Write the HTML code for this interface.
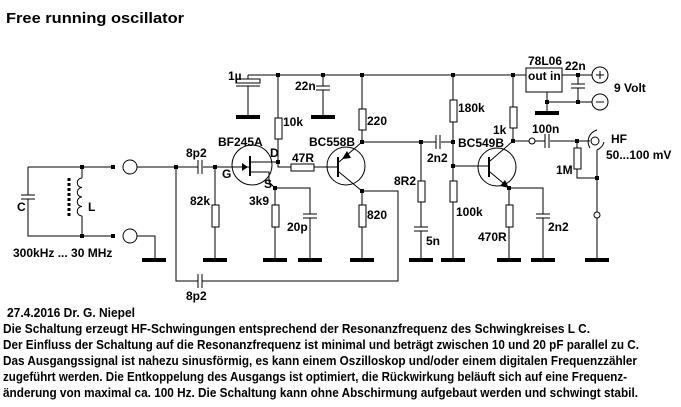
<!DOCTYPE html>
<html><head><meta charset="utf-8"><style>
html,body{margin:0;padding:0;background:#fff;}
svg{display:block;}
text{font-family:"Liberation Sans",Arial,sans-serif;font-weight:bold;font-size:12px;fill:#000;}
.b{font-size:13px;}
</style></head><body>
<svg width="681" height="407" viewBox="0 0 681 407" xmlns="http://www.w3.org/2000/svg">
<g stroke="#000" stroke-width="1" fill="none" shape-rendering="crispEdges">
<path d="M248,75 H526"/>
<path d="M248,75 V79 M248,86 V117"/>
<rect x="236" y="79" width="24" height="4"/>
<path d="M236,86 H260"/>
<path d="M278,75 V118 M278,139 V161 M278,161 V167 H291 M314,167 H338"/>
<rect x="275" y="118" width="7" height="21"/>
<rect x="291" y="164" width="23" height="7"/>
<path d="M323,75 V86 M316,86 H330 M316,90 H330 M323,90 V117"/>
<path d="M28,167 H113 M28,167 V195 M21,195 H35 M21,199 H35 M28,199 V236 H113"/>
<path d="M82,167 V178 M82,216 V236"/>
<path d="M82,178 a4.5,4.5 0 0 0 0,9.5 a4.5,4.5 0 0 0 0,9.5 a4.5,4.5 0 0 0 0,9.5 a4.5,4.5 0 0 0 0,9.5" shape-rendering="auto"/>
<path d="M69,178 V216" stroke-width="3" stroke-dasharray="3,2"/>
<circle cx="130" cy="167" r="7" shape-rendering="auto"/>
<circle cx="130" cy="236" r="7" shape-rendering="auto"/>
<path d="M137,167 H198 M203,167 H249 M198,160 V174 M202,160 V174"/>
<path d="M137,236 H155 V260"/>
<path d="M176,167 V281 H198 M202,281 H398 V191 H362 M198,274 V288 M202,274 V288"/>
<path d="M215,167 V205 M215,227 V260"/>
<rect x="212" y="205" width="7" height="22"/>
<circle cx="252" cy="165" r="20" shape-rendering="auto"/>
<path d="M250,156 V176" stroke-width="2"/>
<path d="M250,162 H278 M250,172 H269 V182 L275,188" />
<path d="M275,188 V205 M275,227 V260 M275,188 H310 V214 M303,214 H317 M303,218 H317 M310,218 V260"/>
<rect x="272" y="205" width="7" height="22"/>
<circle cx="346" cy="166" r="19" shape-rendering="auto"/>
<path d="M338,157 V177" stroke-width="2"/>
<path d="M339,162 L362,142 M339,172 L362,191" shape-rendering="auto"/>
<path d="M362,75 V109 M362,130 V142 M362,191 V205 M362,227 V260"/>
<rect x="359" y="109" width="7" height="21"/>
<rect x="359" y="205" width="7" height="22"/>
<path d="M362,142 H436 M441,142 H453 M436,135 V149 M440,135 V149"/>
<path d="M421,142 V181 M421,202 V227 M414,227 H428 M414,231 H428 M421,231 V260"/>
<rect x="418" y="181" width="7" height="21"/>
<path d="M453,75 V100 M453,122 V181 M453,202 V260 M453,166 H489"/>
<rect x="450" y="100" width="7" height="22"/>
<rect x="450" y="181" width="7" height="21"/>
<circle cx="497" cy="167" r="19" shape-rendering="auto"/>
<path d="M489,157 V177" stroke-width="2"/>
<path d="M490,161 L513,141 M490,172 L509,188" shape-rendering="auto"/>
<path d="M513,75 V107 M513,128 V141 H529"/>
<rect x="510" y="107" width="7" height="21"/>
<circle cx="532" cy="141" r="3" shape-rendering="auto"/>
<path d="M535,141 H545 M550,141 H590 M545,134 V148 M549,134 V148"/>
<path d="M509,188 V205 M509,227 V260 M509,188 H543 V214 M536,214 H550 M536,218 H550 M543,218 V260"/>
<rect x="506" y="205" width="7" height="22"/>
<path d="M577,141 V148 M577,169 V178 H597 M597,150 V212 M597,218 V260"/>
<rect x="574" y="148" width="7" height="21"/>
<circle cx="597" cy="215" r="3" shape-rendering="auto"/>
<circle cx="595" cy="141" r="4" shape-rendering="auto"/>
<path d="M597,130 A12,12 0 0 0 590,148 M597,150 A12,12 0 0 0 604,142" shape-rendering="auto"/>
<rect x="526" y="68" width="36" height="24"/>
<path d="M562,75 H592 M578,75 V84 M571,84 H585 M571,88 H585 M578,88 V102 M547,92 V113 M547,102 H592"/>
<circle cx="600" cy="75" r="8" shape-rendering="auto"/>
<circle cx="600" cy="102" r="8" shape-rendering="auto"/>
<path d="M596,75 H604 M600,71 V79 M596,102 H604"/>
</g>
<g fill="#000">
<rect x="276" y="73" width="4" height="4"/><rect x="321" y="73" width="4" height="4"/>
<rect x="360" y="73" width="4" height="4"/><rect x="451" y="73" width="4" height="4"/>
<rect x="511" y="73" width="4" height="4"/><rect x="576" y="73" width="4" height="4"/>
<rect x="576" y="100" width="4" height="4"/><rect x="545" y="100" width="4" height="4"/>
<rect x="80" y="165" width="4" height="4"/><rect x="80" y="234" width="4" height="4"/>
<rect x="174" y="165" width="4" height="4"/><rect x="213" y="165" width="4" height="4"/>
<rect x="276" y="160" width="4" height="4"/><rect x="273" y="186" width="4" height="4"/>
<rect x="360" y="140" width="4" height="4"/><rect x="360" y="189" width="4" height="4"/>
<rect x="419" y="140" width="4" height="4"/><rect x="451" y="140" width="4" height="4"/>
<rect x="451" y="164" width="4" height="4"/><rect x="511" y="139" width="4" height="4"/>
<rect x="507" y="186" width="4" height="4"/><rect x="575" y="139" width="4" height="4"/>
<rect x="595" y="176" width="4" height="4"/>
<rect x="111" y="165" width="4" height="4"/><rect x="111" y="234" width="4" height="4"/>
<rect x="236" y="115" width="24" height="4"/><rect x="311" y="115" width="24" height="4"/>
<rect x="142" y="258" width="24" height="4"/><rect x="203" y="258" width="24" height="4"/>
<rect x="263" y="258" width="24" height="4"/><rect x="298" y="258" width="24" height="4"/>
<rect x="350" y="258" width="24" height="4"/><rect x="409" y="258" width="24" height="4"/>
<rect x="441" y="258" width="24" height="4"/><rect x="497" y="258" width="24" height="4"/>
<rect x="531" y="258" width="24" height="4"/><rect x="585" y="258" width="24" height="4"/>
<rect x="535" y="111" width="24" height="4"/>
<path d="M248,167 L242,163 L242,171 Z"/>
<path d="M342,159 L347,151 L351,158 Z"/>
<path d="M509,188 L500,186 L505,180 Z"/>
</g>
<text x="6" y="23" style="font-size:15px" textLength="178" lengthAdjust="spacingAndGlyphs">Free running oscillator</text>
<text x="228" y="80">1µ</text>
<text x="295" y="90">22n</text>
<text x="283" y="126">10k</text>
<text x="218" y="146">BF245A</text>
<text x="270" y="157">D</text>
<text x="222" y="178">G</text>
<text x="264" y="188">S</text>
<text x="186" y="157">8p2</text>
<text x="190" y="205">82k</text>
<text x="249" y="205">3k9</text>
<text x="287" y="231">20p</text>
<text x="292" y="162">47R</text>
<text x="309" y="146">BC558B</text>
<text x="367" y="125">220</text>
<text x="367" y="219">820</text>
<text x="394" y="185">8R2</text>
<text x="426" y="245">5n</text>
<text x="427" y="162">2n2</text>
<text x="458" y="112">180k</text>
<text x="456" y="216">100k</text>
<text x="458" y="147">BC549B</text>
<text x="493" y="134">1k</text>
<text x="532" y="133">100n</text>
<text x="478" y="241">470R</text>
<text x="548" y="231">2n2</text>
<text x="556" y="174">1M</text>
<text x="611" y="143">HF</text>
<text x="606" y="159">50...100 mV</text>
<text x="528" y="65">78L06</text>
<text x="528" y="80">out  in</text>
<text x="565" y="70">22n</text>
<text x="614" y="92">9 Volt</text>
<text x="17" y="211">C</text>
<text x="88" y="211">L</text>
<text x="13" y="257">300kHz ... 30 MHz</text>
<text x="186" y="300">8p2</text>
<text class="b" x="7" y="317" textLength="128" lengthAdjust="spacingAndGlyphs">27.4.2016  Dr. G. Niepel</text>
<text class="b" x="3" y="333" textLength="587" lengthAdjust="spacingAndGlyphs">Die Schaltung erzeugt HF-Schwingungen entsprechend der Resonanzfrequenz des Schwingkreises L C.</text>
<text class="b" x="3" y="349" textLength="636" lengthAdjust="spacingAndGlyphs">Der Einfluss der Schaltung auf die Resonanzfrequenz ist minimal und beträgt zwischen 10 und 20 pF parallel zu C.</text>
<text class="b" x="3" y="365" textLength="634" lengthAdjust="spacingAndGlyphs">Das Ausgangssignal ist nahezu sinusförmig, es kann einem Oszilloskop und/oder einem digitalen Frequenzzähler</text>
<text class="b" x="3" y="381" textLength="624" lengthAdjust="spacingAndGlyphs">zugeführt werden. Die Entkoppelung des Ausgangs ist optimiert, die Rückwirkung beläuft sich auf eine Frequenz-</text>
<text class="b" x="3" y="397" textLength="635" lengthAdjust="spacingAndGlyphs">änderung von maximal ca. 100 Hz. Die Schaltung kann ohne Abschirmung aufgebaut werden und schwingt stabil.</text>
</svg>
</body></html>
